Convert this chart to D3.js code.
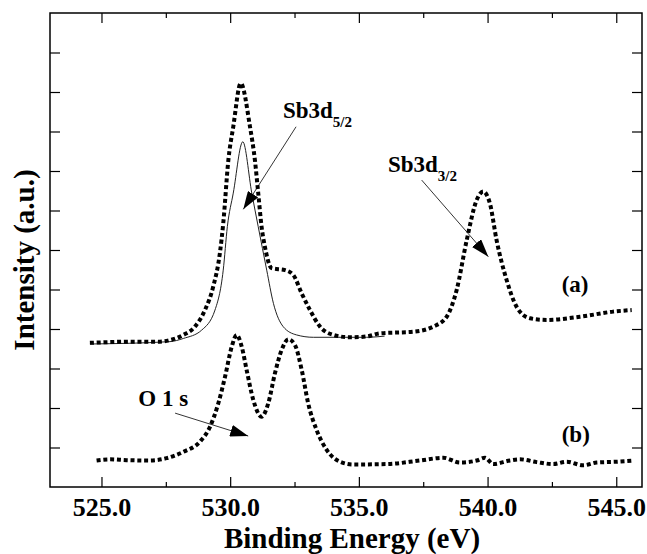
<!DOCTYPE html>
<html>
<head>
<meta charset="utf-8">
<script src="https://cdn.jsdelivr.net/npm/d3@7"></script>
<style>
  body { margin: 0; background: #fff; }
  text { font-family: "Liberation Serif", "Times New Roman", serif; font-weight: bold; fill: #000; }
</style>
</head>
<body>
<svg id="chart" width="647" height="554"></svg>
<script>
// spectrum (a): Sb3d measured
var energyA = [524.55, 526.22, 527.27, 527.66, 528.18, 528.63, 529.02, 529.34, 529.60, 529.73,
               529.93, 530.12, 530.41, 530.77, 530.96, 531.09, 531.22, 531.35, 531.61, 532.13,
               532.45, 532.78, 533.10, 533.49, 534.01, 534.65, 535.30, 535.82, 537.11, 537.89,
               538.41, 538.80, 539.19, 539.58, 539.83, 540.09, 540.35, 540.74, 541.13, 541.65,
               542.30, 543.59, 544.88, 545.60];
var intensityA = [3.65, 3.68, 3.68, 3.72, 3.85, 4.06, 4.48, 5.07, 5.92, 6.67,
                  8.28, 9.12, 10.22, 9.12, 8.28, 7.44, 6.59, 6.08, 5.54, 5.49,
                  5.37, 4.90, 4.48, 4.06, 3.85, 3.79, 3.81, 3.89, 3.93, 4.06,
                  4.31, 4.99, 6.25, 7.27, 7.48, 7.18, 6.25, 5.24, 4.56, 4.27,
                  4.23, 4.31, 4.44, 4.48];

// fitted Sb3d5/2 component
var energyFit = [524.55, 527.66, 528.18, 528.89, 529.41, 529.73, 529.89, 530.12, 530.49,
                 530.84, 531.09, 531.42, 531.68, 532.06, 532.58, 533.23, 535.30, 536.00];
var intensityFit = [3.62, 3.68, 3.76, 3.97, 4.48, 5.49, 6.59, 7.44, 8.74,
                    7.44, 6.59, 5.49, 4.65, 4.06, 3.85, 3.79, 3.79, 3.82];

// spectrum (b): O 1s
var energyB = [524.81, 525.33, 525.98, 526.88, 527.53, 528.18, 528.83, 529.22, 529.54, 529.80,
               530.06, 530.25, 530.45, 530.64, 530.90, 531.22, 531.48, 531.74, 532.00, 532.26,
               532.52, 532.78, 533.03, 533.36, 533.75, 534.27, 534.78, 536.08, 537.37, 538.28,
               538.93, 539.58, 539.90, 540.22, 540.87, 541.26, 541.91, 542.55, 543.07, 543.72,
               544.24, 545.02, 545.66];
var intensityB = [0.67, 0.70, 0.68, 0.67, 0.73, 0.89, 1.15, 1.53, 2.12, 2.79,
                  3.55, 3.85, 3.55, 2.96, 2.20, 1.78, 2.12, 2.88, 3.47, 3.74,
                  3.59, 2.96, 2.12, 1.44, 0.94, 0.64, 0.57, 0.58, 0.67, 0.74,
                  0.62, 0.67, 0.74, 0.58, 0.67, 0.70, 0.63, 0.58, 0.64, 0.55,
                  0.62, 0.64, 0.67];

var xMajorTicks = [525, 530, 535, 540, 545];
var xMinorTicks = [527.5, 532.5, 537.5, 542.5];
var yTicks = [1, 2, 3, 4, 5, 6, 7, 8, 9, 10, 11];

var svg = d3.select("#chart"),
    margin = {left: 50, right: 5, top: 13, bottom: 67},
    width = +svg.attr("width") - margin.left - margin.right,
    height = +svg.attr("height") - margin.top - margin.bottom;

var x = d3.scaleLinear().domain([523, 546]).range([margin.left, margin.left + width]);
var y = d3.scaleLinear().domain([0, 12]).range([margin.top + height, margin.top]);

// axes, ticks pointing inward
function noDomain(g) { g.select(".domain").remove(); }

svg.append("g")
    .attr("transform", "translate(0," + y(0) + ")")
    .call(d3.axisBottom(x).tickValues(xMajorTicks).tickSizeInner(-10).tickSizeOuter(0)
      .tickPadding(11).tickFormat(d3.format(".1f")))
    .call(noDomain)
    .selectAll("text")
      .attr("font-size", 26)
      .attr("font-family", null);

svg.append("g")
    .attr("transform", "translate(0," + y(0) + ")")
    .call(d3.axisBottom(x).tickValues(xMinorTicks).tickSizeInner(-5).tickSizeOuter(0).tickFormat(""))
    .call(noDomain);

svg.append("g")
    .attr("transform", "translate(0," + y(12) + ")")
    .call(d3.axisTop(x).tickValues(xMajorTicks).tickSizeInner(-10).tickSizeOuter(0).tickFormat(""))
    .call(noDomain);

svg.append("g")
    .attr("transform", "translate(0," + y(12) + ")")
    .call(d3.axisTop(x).tickValues(xMinorTicks).tickSizeInner(-5).tickSizeOuter(0).tickFormat(""))
    .call(noDomain);

svg.append("g")
    .attr("transform", "translate(" + x(523) + ",0)")
    .call(d3.axisLeft(y).tickValues(yTicks).tickSizeInner(-10).tickSizeOuter(0).tickFormat(""))
    .call(noDomain);

svg.append("g")
    .attr("transform", "translate(" + x(546) + ",0)")
    .call(d3.axisRight(y).tickValues(yTicks).tickSizeInner(-10).tickSizeOuter(0).tickFormat(""))
    .call(noDomain);

svg.selectAll(".tick line").attr("stroke", "#000").attr("stroke-width", 1.2);

svg.append("rect")
    .attr("x", x(523))
    .attr("y", y(12))
    .attr("width", x(546) - x(523))
    .attr("height", y(0) - y(12))
    .attr("fill", "none")
    .attr("stroke", "#000")
    .attr("stroke-width", 1.5);

// curves
var line = d3.line()
    .x(function(d) { return x(d[0]); })
    .y(function(d) { return y(d[1]); })
    .curve(d3.curveMonotoneX);

svg.append("path")
    .datum(d3.zip(energyFit, intensityFit))
    .attr("fill", "none")
    .attr("stroke", "#222")
    .attr("stroke-width", 1)
    .attr("d", line);

[d3.zip(energyA, intensityA), d3.zip(energyB, intensityB)].forEach(function(series) {
  svg.append("path")
      .datum(series)
      .attr("fill", "none")
      .attr("stroke", "#000")
      .attr("stroke-width", 4)
      .attr("stroke-dasharray", "4,2.8")
      .attr("d", line);
});

// annotations
svg.append("defs").append("marker")
    .attr("id", "head")
    .attr("viewBox", "0 0 18 12")
    .attr("refX", 18)
    .attr("refY", 6)
    .attr("markerWidth", 18)
    .attr("markerHeight", 12)
    .attr("markerUnits", "userSpaceOnUse")
    .attr("orient", "auto")
  .append("path")
    .attr("d", "M0,0L18,6L0,12Z")
    .attr("fill", "#000");

var arrows = [
  [[532.56, 9.12], [530.51, 7.03]],
  [[537.44, 7.77], [540.03, 5.83]],
  [[527.86, 1.87], [530.70, 1.29]]
];

arrows.forEach(function(a) {
  svg.append("line")
      .attr("x1", x(a[0][0])).attr("y1", y(a[0][1]))
      .attr("x2", x(a[1][0])).attr("y2", y(a[1][1]))
      .attr("stroke", "#000")
      .attr("stroke-width", 0.8)
      .attr("marker-end", "url(#head)");
});

function peakLabel(e, v, sub) {
  var t = svg.append("text")
      .attr("x", x(e))
      .attr("y", y(v))
      .attr("font-size", 23)
      .text("Sb3d");
  t.append("tspan")
      .attr("dy", 9)
      .attr("font-size", 15)
      .text(sub);
}
peakLabel(532.05, 9.33, "5/2");
peakLabel(536.13, 7.98, "3/2");

svg.append("text")
    .attr("x", x(526.43))
    .attr("y", y(2.05))
    .attr("font-size", 23)
    .text("O 1 s");

svg.append("text")
    .attr("x", x(542.88))
    .attr("y", y(4.94))
    .attr("font-size", 23)
    .text("(a)");

svg.append("text")
    .attr("x", x(542.88))
    .attr("y", y(1.14))
    .attr("font-size", 23)
    .text("(b)");

// axis titles
svg.append("text")
    .attr("x", 352)
    .attr("y", 548)
    .attr("text-anchor", "middle")
    .attr("font-size", 29)
    .text("Binding Energy (eV)");

svg.append("text")
    .attr("transform", "translate(34,260) rotate(-90)")
    .attr("text-anchor", "middle")
    .attr("font-size", 29)
    .text("Intensity (a.u.)");
</script>
</body>
</html>
